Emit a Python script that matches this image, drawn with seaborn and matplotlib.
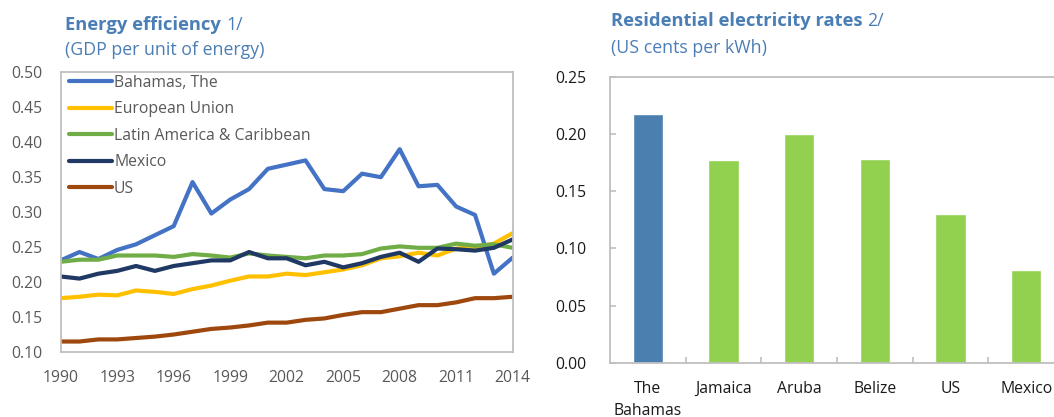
import matplotlib
matplotlib.use('Agg')
import matplotlib.pyplot as plt
import seaborn as sns
import pandas as pd

# --- data ---
years = list(range(1990, 2015))
bahamas = [0.231, 0.243, 0.233, 0.246, 0.254, 0.267, 0.280, 0.343, 0.298, 0.318,
           0.333, 0.362, 0.368, 0.374, 0.333, 0.330, 0.355, 0.350, 0.390, 0.337,
           0.339, 0.308, 0.296, 0.212, 0.235]
eu = [0.177, 0.179, 0.182, 0.181, 0.188, 0.186, 0.183, 0.190, 0.195, 0.202,
      0.208, 0.208, 0.212, 0.210, 0.214, 0.218, 0.224, 0.234, 0.237, 0.242,
      0.238, 0.248, 0.250, 0.255, 0.270]
lac = [0.229, 0.232, 0.232, 0.238, 0.238, 0.238, 0.236, 0.240, 0.238, 0.235,
       0.241, 0.238, 0.236, 0.234, 0.238, 0.238, 0.240, 0.248, 0.251, 0.249,
       0.249, 0.255, 0.252, 0.254, 0.249]
mexico = [0.208, 0.205, 0.212, 0.216, 0.223, 0.216, 0.223, 0.227, 0.231, 0.231,
          0.243, 0.234, 0.234, 0.224, 0.229, 0.221, 0.227, 0.236, 0.242, 0.229,
          0.248, 0.247, 0.245, 0.249, 0.261]
us = [0.115, 0.115, 0.118, 0.118, 0.120, 0.122, 0.125, 0.129, 0.133, 0.135,
      0.138, 0.142, 0.142, 0.146, 0.148, 0.153, 0.157, 0.157, 0.162, 0.167,
      0.167, 0.171, 0.177, 0.177, 0.179]
series_names = ['Bahamas, The', 'European Union', 'Latin America & Caribbean', 'Mexico', 'US']
series_colors = ['#4472C4', '#FFC000', '#70AD47', '#1F3864', '#9E480E']

countries = ['The\nBahamas', 'Jamaica', 'Aruba', 'Belize', 'US', 'Mexico']
rates = [0.217, 0.177, 0.200, 0.178, 0.130, 0.081]
bar_colors = ['#4A7FB0', '#92D050', '#92D050', '#92D050', '#92D050', '#92D050']

W, H = 1054, 417
TITLE_COLOR = '#4A7EB5'
SPINE = '#BFBFBF'
FS = 11.3

sns.set_theme(style='white')
plt.rcParams['font.family'] = ['Open Sans', 'DejaVu Sans']

df_lines = pd.DataFrame({
    'year': years * 5,
    'value': bahamas + eu + lac + mexico + us,
    'series': [n for n in series_names for _ in years],
})

fig = plt.figure(figsize=(W / 100, H / 100), dpi=100)


def px_axes(x0, y0, x1, y1):
    return fig.add_axes([x0 / W, 1 - y1 / H, (x1 - x0) / W, (y1 - y0) / H])


# --- left panel: energy efficiency ---
ax1 = px_axes(60.7, 72.3, 512.7, 352)
sns.lineplot(data=df_lines, x='year', y='value', hue='series', hue_order=series_names,
             palette=series_colors, linewidth=3, ax=ax1)
ax1.set_xlim(1990, 2014)
ax1.set_ylim(0.10, 0.50)
ax1.set_xticks(list(range(1990, 2015, 3)))
ax1.set_yticks([0.10, 0.15, 0.20, 0.25, 0.30, 0.35, 0.40, 0.45, 0.50])
ax1.set_yticklabels([f'{v:.2f}' for v in ax1.get_yticks()])
ax1.set_xlabel('')
ax1.set_ylabel('')
ax1.tick_params(axis='both', length=0, labelsize=FS, colors='#595959', pad=13)
for sp in ax1.spines.values():
    sp.set_color(SPINE)
    sp.set_linewidth(1.3)
ax1.legend(loc='upper left', frameon=False, fontsize=FS, handlelength=2.75,
           handletextpad=0.15, labelspacing=0.67, borderaxespad=0.1,
           bbox_to_anchor=(0.0, 1.02), labelcolor='#595959')

# --- right panel: residential electricity rates ---
ax2 = px_axes(610, 76.7, 1064, 363)
sns.barplot(x=countries, y=rates, hue=countries, palette=bar_colors, width=0.4,
            saturation=1, legend=False, ax=ax2)
ax2.set_xlim(-0.5, 5.5)
ax2.set_ylim(0, 0.25)
ax2.set_yticks([0.00, 0.05, 0.10, 0.15, 0.20, 0.25])
ax2.set_yticklabels([f'{v:.2f}' for v in ax2.get_yticks()])
ax2.tick_params(axis='y', direction='in', length=4, width=1.2, color=SPINE,
                labelsize=FS, labelcolor='#1a1a1a', pad=17, left=True)
ax2.tick_params(axis='x', length=0, labelsize=FS, labelcolor='#1a1a1a', pad=13)
for lbl in ax2.get_xticklabels():
    lbl.set_linespacing(1.5)
ax2.set_xticks([0.5, 1.5, 2.5, 3.5, 4.5], minor=True)
ax2.tick_params(axis='x', which='minor', direction='in', length=4, width=1.2,
                color=SPINE, bottom=True)
for sp in ax2.spines.values():
    sp.set_color(SPINE)
    sp.set_linewidth(1.3)


# --- titles ---
def title(x, y, bold, rest, sub, gap):
    t = fig.text(x / W, 1 - y / H, bold, fontsize=13.2, fontweight='bold',
                 color=TITLE_COLOR, va='center', ha='left')
    fig.canvas.draw()
    bb = t.get_window_extent()
    fig.text((bb.x1 + 5) / W, 1 - y / H, rest, fontsize=12.8, color=TITLE_COLOR,
             va='center', ha='left')
    fig.text(x / W, 1 - (y + gap) / H, sub, fontsize=12.8, color=TITLE_COLOR,
             va='center', ha='left')


title(65, 25, 'Energy efficiency', '1/', '(GDP per unit of energy)', 25)
title(611, 21, 'Residential electricity rates', '2/', '(US cents per kWh)', 27)

fig.savefig('out.png', dpi=100)
